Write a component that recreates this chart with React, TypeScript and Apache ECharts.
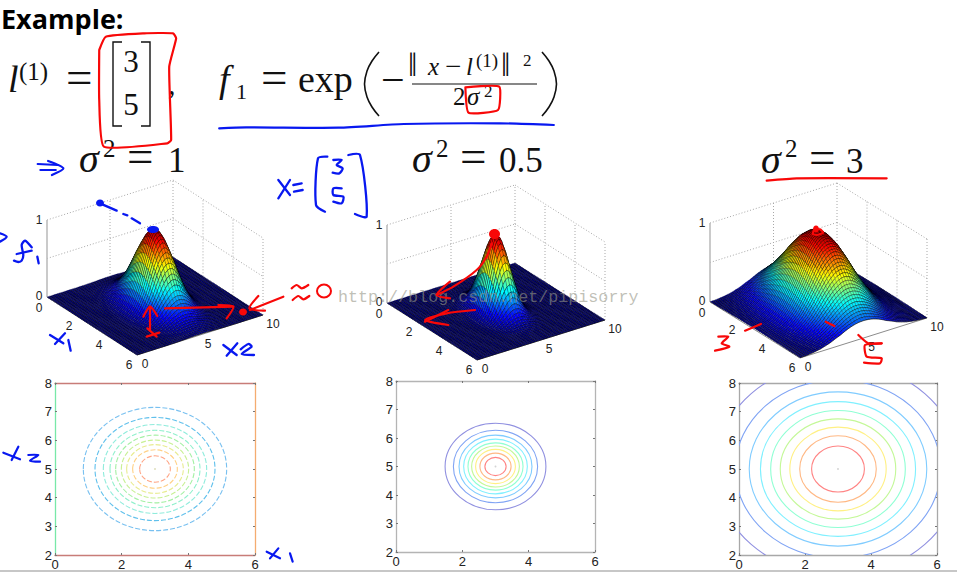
import React, { useEffect, useRef } from "react";
import * as echarts from "echarts";

// ---- values ----
const x1Ticks = [0, 2, 4, 6];
const x2Ticks = [0, 5, 10];
const zTicks = [0, 0.5, 1];
const contourXTicks = { min: 0, max: 6, interval: 2 };
const contourYTicks = { min: 2, max: 8, interval: 1 };
const center = [3, 5];

// Height of each bump against distance from its centre, estimated from the
// picture. The surface mesh looks values up in these tables.
const profileStep1 = 0.25;
const profile1 = [1, 0.97, 0.88, 0.75, 0.61, 0.46, 0.32, 0.22, 0.135, 0.08, 0.044, 0.022, 0.011, 0.005, 0.002, 0.001, 0];
const profileStep2 = 0.25;
const profile2 = [1, 0.94, 0.78, 0.57, 0.37, 0.21, 0.105, 0.047, 0.018, 0.006, 0.002, 0];
const profileStep3 = 0.5;
const profile3 = [1, 0.96, 0.85, 0.69, 0.51, 0.35, 0.22, 0.13, 0.07, 0.034, 0.015, 0.006, 0.0025, 0.001, 0];

// Contour radii in data units, outermost first, measured from the bottom row.
const contourRadii1 = [2.15, 1.8, 1.55, 1.35, 1.18, 1.01, 0.85, 0.67, 0.46, 0.015];
const contourRadii2 = [1.52, 1.27, 1.1, 0.96, 0.83, 0.72, 0.6, 0.47, 0.32, 0.012];
const contourRadii3 = [3.72, 3.11, 2.69, 2.35, 2.04, 1.75, 1.46, 1.16, 0.8, 0.012];
const contourColors1 = ["#78c0f0", "#60c0ec", "#90ecdc", "#90f0cc", "#a4f0a4", "#c8f094", "#e8ec90", "#ffd084", "#ffa484", "#e0e0c0"];
const contourColors = ["#9090e0", "#80a4f4", "#80ccff", "#80f0ff", "#90ffd4", "#c4f898", "#fff084", "#ffb884", "#ff8484", "#d0d0d0"];

const zLabels = ["0", "", "1"];
const watermark = "http://blog.csdn.net/pipisorry";

type Panel3D = { L: number[]; F: number[]; R: number[]; unit: number; profile: number[]; step: number };
const panels3D: Panel3D[] = [
  { L: [47, 297], F: [137, 355], R: [263, 315], unit: 77, profile: profile1, step: profileStep1 },
  { L: [387, 303], F: [477, 360], R: [605, 320], unit: 78, profile: profile2, step: profileStep2 },
  { L: [710, 302], F: [800, 358], R: [927, 318], unit: 79, profile: profile3, step: profileStep3 },
];

const MESH_X1 = 60;
const MESH_X2 = 50;

function project(p: Panel3D, x1: number, x2: number, z: number) {
  return [
    p.L[0] + (x1 / 6) * (p.F[0] - p.L[0]) + (x2 / 10) * (p.R[0] - p.F[0]),
    p.L[1] + (x1 / 6) * (p.F[1] - p.L[1]) + (x2 / 10) * (p.R[1] - p.F[1]) - z * p.unit,
  ];
}
function heightAt(p: Panel3D, x1: number, x2: number) {
  const r = Math.hypot(x1 - center[0], x2 - center[1]) / p.step;
  const k = Math.floor(r);
  if (k >= p.profile.length - 1) return p.profile[p.profile.length - 1];
  return p.profile[k] + (p.profile[k + 1] - p.profile[k]) * (r - k);
}
function jet(t: number) {
  const ch = (v: number) => Math.round(255 * Math.max(0, Math.min(1, v)));
  const s = t * 0.98;
  const r = 1.5 - Math.abs(4 * s - 3);
  const g = 1.5 - Math.abs(4 * s - 2);
  const b = 1.5 - Math.abs(4 * s - 1);
  return `rgb(${ch(r)},${ch(g)},${ch(b)})`;
}

function surfaceSeries(p: Panel3D) {
  const cells: number[][] = [];
  for (let i = 0; i < MESH_X1; i++) for (let j = MESH_X2 - 1; j >= 0; j--) cells.push([i, j]);
  return {
    type: "custom",
    coordinateSystem: "none",
    silent: true,
    z: 3,
    progressive: 0,
    data: cells,
    renderItem: (_: any, api: any) => {
      const i = api.value(0);
      const j = api.value(1);
      const corners = [
        [i, j],
        [i + 1, j],
        [i + 1, j + 1],
        [i, j + 1],
      ].map(([a, b]) => {
        const x1 = (a * 6) / MESH_X1;
        const x2 = (b * 10) / MESH_X2;
        const h = heightAt(p, x1, x2);
        return { h, pt: project(p, x1, x2, h) };
      });
      const mean = corners.reduce((s, c) => s + c.h, 0) / 4;
      const front = [corners[1].pt, corners[2].pt];
      return {
        type: "group",
        children: [
          {
            type: "polygon",
            shape: { points: corners.map((c) => c.pt) },
            style: { fill: jet(mean), stroke: "rgba(0,0,0,0.42)", lineWidth: 0.5 },
          },
          {
            type: "line",
            shape: { x1: front[0][0], y1: front[0][1], x2: front[1][0], y2: front[1][1] },
            style: { stroke: "rgba(0,0,0,0.72)", lineWidth: 0.75 },
          },
        ],
      };
    },
  };
}

function frameSeries(p: Panel3D) {
  type Seg = { a: number[]; b: number[]; kind: "dot" | "axis" | "zaxis" };
  const segs: Seg[] = [];
  zTicks.slice(1).forEach((z) => {
    segs.push({ a: [0, 0, z], b: [0, 10, z], kind: "dot" });
    segs.push({ a: [0, 10, z], b: [6, 10, z], kind: "dot" });
  });
  x2Ticks.slice(1).forEach((x2) => segs.push({ a: [0, x2, 0], b: [0, x2, 1], kind: "dot" }));
  x1Ticks.slice(1).forEach((x1) => segs.push({ a: [x1, 10, 0], b: [x1, 10, 1], kind: "dot" }));
  segs.push({ a: [0, 0, 0], b: [6, 0, 0], kind: "axis" });
  segs.push({ a: [6, 0, 0], b: [6, 10, 0], kind: "axis" });
  segs.push({ a: [0, 0, 0], b: [0, 0, 1], kind: "zaxis" });
  return {
    type: "custom",
    coordinateSystem: "none",
    silent: true,
    z: 2,
    data: segs.map((_, i) => i),
    renderItem: (params: any) => {
      const s = segs[params.dataIndex];
      const A = project(p, s.a[0], s.a[1], s.a[2]);
      const B = project(p, s.b[0], s.b[1], s.b[2]);
      const style =
        s.kind === "dot"
          ? { stroke: "#a8a8a8", lineWidth: 1, lineDash: [1, 2] }
          : s.kind === "axis"
            ? { stroke: "#8c8c8c", lineWidth: 1 }
            : { stroke: "#bdbdbd", lineWidth: 1.6 };
      return { type: "line", shape: { x1: A[0], y1: A[1], x2: B[0], y2: B[1] }, style };
    },
  };
}

function labelSeries(p: Panel3D) {
  const rows: { t: string; at: number[]; d: number[] }[] = [];
  zTicks.forEach((z, i) => {
    if (zLabels[i]) rows.push({ t: zLabels[i], at: [0, 0, z], d: [-8, z === 0 ? -1.5 : 0] });
  });
  x1Ticks.forEach((v) => rows.push({ t: String(v), at: [v, 0, 0], d: [-8, v === 0 ? 11 : 9.5] }));
  x2Ticks.forEach((v) => rows.push({ t: String(v), at: [6, v, 0], d: [v === 10 ? 10 : 8, 8.5] }));
  return {
    type: "custom",
    coordinateSystem: "none",
    silent: true,
    z: 4,
    data: rows.map((_, i) => i),
    renderItem: (params: any) => {
      const r = rows[params.dataIndex];
      const q = project(p, r.at[0], r.at[1], r.at[2]);
      return {
        type: "text",
        x: q[0] + r.d[0],
        y: q[1] + r.d[1],
        style: {
          text: r.t,
          fill: "#222",
          fontSize: 12,
          fontFamily: "Liberation Sans",
          align: "center",
          textAlign: "center",
          verticalAlign: "middle",
          textVerticalAlign: "middle",
        },
      };
    },
  };
}

// ---- pen annotations and typeset formula ----
const BLUE = "#0818f0";
const RED = "#f80808";
type Crop = { ox: number; oy: number; sx: number; sy: number };
const topCrop: Crop = { ox: 0, oy: 0, sx: 2.6, sy: 3 };
const leftCrop: Crop = { ox: 0, oy: 190, sx: 3, sy: 3 };
const midCrop: Crop = { ox: 320, oy: 140, sx: 3, sy: 3 };
const rightCrop: Crop = { ox: 660, oy: 140, sx: 3, sy: 3 };
const lowCrop: Crop = { ox: 0, oy: 370, sx: 3, sy: 3 };

function pen(c: Crop, color: string, width: number, lines: number[][][], smooth = 0.25) {
  return lines.map((pts) => ({
    type: "polyline",
    z: 50,
    silent: true,
    shape: { points: pts.map(([x, y]) => [c.ox + x / c.sx, c.oy + y / c.sy]), smooth },
    style: { stroke: color, lineWidth: width, fill: "none", lineCap: "round", lineJoin: "round" },
  }));
}
function txt(text: string, x: number, base: number, size: number, italic = false, align = "left", family = "Liberation Serif", fill = "#111", weight = "normal") {
  return {
    type: "text",
    z: 40,
    silent: true,
    x,
    y: base - 0.33 * size,
    style: {
      text,
      fill,
      fontSize: size,
      fontFamily: family,
      fontStyle: italic ? "italic" : "normal",
      fontWeight: weight,
      align,
      textAlign: align,
      verticalAlign: "middle",
      textVerticalAlign: "middle",
    },
  };
}
function blob(cx: number, cy: number, rx: number, ry: number, color: string) {
  return { type: "ellipse", z: 50, silent: true, shape: { cx, cy, rx, ry }, style: { fill: color } };
}
function ink(x1: number, y1: number, x2: number, y2: number, w = 1.2) {
  return { type: "line", z: 40, silent: true, shape: { x1, y1, x2, y2 }, style: { stroke: "#111", lineWidth: w } };
}
function poly(points: number[][], w = 1.4, smooth = 0) {
  return { type: "polyline", z: 40, silent: true, shape: { points, smooth }, style: { stroke: "#111", lineWidth: w, fill: "none" } };
}

const formula = [
  txt("Example:", 1, 27, 27, false, "left", "Open Sans", "#000", "bold"),
  txt("l", 8, 92, 38, true),
  txt("(1)", 19, 80, 25),
  txt("=", 66, 93, 47),
  poly([[122, 42], [113, 42], [113, 126], [122, 126]]),
  poly([[141, 42], [150, 42], [150, 126], [141, 126]]),
  txt("3", 131, 72, 31, false, "center"),
  txt("5", 131, 115, 31, false, "center"),
  txt(",", 168, 93, 30),
  txt("f", 219, 92, 38, true),
  txt("1", 236, 99, 22),
  txt("=", 261, 93, 47),
  txt("exp", 298, 92, 38),
  poly([[379, 52], [372, 61], [367, 71], [364.5, 84], [367, 97], [372, 107], [379, 116]], 1.6, 0.4),
  poly([[542, 52], [549, 61], [554, 71], [556.5, 84], [554, 97], [549, 107], [542, 116]], 1.6, 0.4),
  txt("−", 381, 94, 42),
  ink(412, 84, 537, 84),
  txt("‖", 408, 76, 33),
  txt("x", 428, 75, 25, true),
  txt("−", 445, 76, 29),
  txt("l", 466, 75, 25, true),
  txt("(1)", 476, 67, 19),
  txt("‖", 501, 76, 33),
  txt("2", 523, 66, 17),
  txt("2", 453, 105, 25),
  txt("σ", 467, 105, 25, true),
  txt("2", 484, 97, 17),
  // panel titles
  txt("σ", 79, 172, 40, true),
  txt("2", 103, 157, 25),
  txt("=", 127, 172, 47),
  txt("1", 168, 172, 35),
  txt("σ", 412, 172, 40, true),
  txt("2", 436, 157, 25),
  txt("=", 460, 172, 47),
  txt("0.5", 499, 172, 35),
  txt("σ", 761, 173, 40, true),
  txt("2", 785, 157, 25),
  txt("=", 809, 173, 47),
  txt("3", 846, 173, 35),
];

const annotations = [
  // top row
  ...pen(topCrop, RED, 2.2, [
    [[258, 150], [275, 110], [375, 100], [450, 100], [458, 115], [440, 200], [445, 420], [435, 430], [270, 440], [258, 300], [258, 150]],
    [[1210, 262], [1298, 260], [1295, 330], [1218, 338], [1210, 262]],
  ], 0.15),
  ...pen(topCrop, BLUE, 2.2, [
    [[570, 385], [640, 382], [880, 383], [1050, 372], [1300, 370], [1440, 375]],
    [[98, 492], [150, 495]],
    [[125, 483], [165, 505], [135, 525]],
    [[105, 510], [145, 510]],
  ]),
  // x = [3 5]
  ...pen(midCrop, BLUE, 2.3, [
    [[-125, 120], [-90, 165]],
    [[-90, 120], [-125, 175]],
    [[-80, 135], [-55, 130]],
    [[-78, 155], [-52, 150]],
    [[22, 50], [-6, 55], [-12, 195], [15, 215]],
    [[85, 45], [120, 45], [140, 230], [105, 222]],
    [[40, 60], [65, 60], [50, 75], [68, 85], [58, 100], [38, 98]],
    [[65, 145], [40, 145], [40, 165], [70, 170], [65, 190], [40, 185]],
  ]),
  // surface 1
  ...pen(leftCrop, BLUE, 2.3, [
    [[300, 40], [350, 62]],
    [[370, 72], [382, 76]],
    [[395, 85], [420, 100]],
    [[0, 130], [20, 140], [0, 155]],
    [[95, 172], [75, 152], [65, 165], [70, 195], [65, 212], [55, 216], [42, 212]],
    [[50, 192], [95, 182]],
    [[112, 200], [116, 220]],
    [[150, 435], [190, 460]],
    [[195, 430], [165, 462]],
    [[205, 450], [212, 482]],
    [[670, 465], [710, 495]],
    [[712, 460], [680, 497]],
    [[722, 478], [745, 462], [755, 470], [725, 492], [762, 495]],
  ]),
  blob(100, 203, 4, 3.5, BLUE),
  blob(153, 229.5, 6, 3.5, BLUE),
  ...pen(leftCrop, RED, 2.2, [
    [[450, 350], [450, 420]],
    [[430, 380], [450, 350], [472, 378]],
    [[440, 440], [478, 428]],
    [[442, 415], [470, 440]],
    [[495, 355], [700, 350]],
    [[655, 345], [700, 350], [680, 385]],
    [[850, 320], [750, 360]],
    [[775, 318], [748, 355], [795, 362]],
    [[875, 295], [890, 285], [905, 295], [925, 285]],
    [[878, 330], [895, 318], [910, 328], [928, 318]],
  ]),
  blob(243, 312, 4, 3.5, RED),
  { type: "ellipse", z: 50, silent: true, shape: { cx: 324, cy: 291, rx: 7, ry: 6.5 }, style: { fill: "none", stroke: RED, lineWidth: 2 } },
  // surface 2
  blob(494.5, 234, 5.5, 5, RED),
  ...pen(midCrop, RED, 2.2, [
    [[515, 310], [500, 350], [470, 390], [400, 440], [350, 465]],
    [[390, 425], [350, 465], [390, 475]],
    [[465, 510], [380, 520], [315, 540], [385, 555]],
    [[385, 510], [315, 545]],
  ]),
  // surface 3
  ...pen(rightCrop, RED, 2.2, [
    [[320, 122], [410, 115], [680, 115]],
    [[175, 590], [205, 590], [185, 610], [208, 620], [165, 632]],
    [[255, 572], [303, 552]],
    [[497, 545], [523, 558]],
    [[595, 585], [625, 610], [665, 610]],
    [[665, 610], [615, 615], [620, 650], [665, 655], [660, 670], [612, 668]],
    [[458, 282], [470, 285], [490, 278], [480, 268], [462, 270], [458, 282]],
  ], 0.2),
  blob(816, 229, 3, 3.5, RED),
  // lower row
  ...pen(lowCrop, BLUE, 2.2, [
    [[10, 248], [60, 268]],
    [[55, 230], [35, 270]],
    [[85, 255], [115, 255], [90, 272], [120, 275]],
    [[800, 545], [840, 565]],
    [[835, 535], [810, 565]],
    [[870, 550], [878, 575]],
  ]),
];

const page = [
  txt(watermark, 338, 303, 16.7, false, "left", "Liberation Mono", "rgba(150,150,135,0.6)"),
  { type: "line", z: 60, silent: true, shape: { x1: 0, y1: 571, x2: 957, y2: 571 }, style: { stroke: "#b4b4b4", lineWidth: 1.5 } },
];

// ---- contour panels ----
type Box = { left: number; top: number; width: number; height: number };
const contourPanels = [
  { box: { left: 55, top: 383, width: 200, height: 172 } as Box, radii: contourRadii1, colors: contourColors1, dash: [5, 2], top: "#c87c78", bottom: "#c87c78", leftC: "#78e8a8", right: "#f4ac70" },
  { box: { left: 396, top: 381, width: 199, height: 171 } as Box, radii: contourRadii2, colors: contourColors, dash: null, top: "#b4b4b4", bottom: "#b4b4b4", leftC: "#b4b4b4", right: "#b4b4b4" },
  { box: { left: 739, top: 383, width: 198, height: 172 } as Box, radii: contourRadii3, colors: contourColors, dash: null, top: "#a8a8a8", bottom: "#a8a8a8", leftC: "#a8a8a8", right: "#a8a8a8" },
];

function buildOption() {
  const grid: any[] = [];
  const xAxis: any[] = [];
  const yAxis: any[] = [];
  const series: any[] = [];
  contourPanels.forEach((c, g) => {
    grid.push({ ...c.box, show: false });
    const mk = (pos: string, color: string, labels: boolean) => ({
      type: "value",
      gridIndex: g,
      position: pos,
      splitLine: { show: false },
      axisLine: { show: true, onZero: false, lineStyle: { color, width: 1.3 } },
      axisTick: { show: true, inside: true, length: 2, lineStyle: { color: "#777" } },
      axisLabel: {
        show: labels,
        margin: 3,
        fontSize: 13,
        color: "#222",
        fontFamily: "Liberation Sans",
        hideOverlap: false,
        showMinLabel: true,
        showMaxLabel: true,
      },
    });
    xAxis.push({ ...mk("bottom", c.bottom, true), ...contourXTicks });
    xAxis.push({ ...mk("top", c.top, false), ...contourXTicks });
    yAxis.push({ ...mk("left", c.leftC, true), ...contourYTicks });
    yAxis.push({ ...mk("right", c.right, false), ...contourYTicks });
    series.push({
      type: "custom",
      coordinateSystem: "cartesian2d",
      xAxisIndex: g * 2,
      yAxisIndex: g * 2,
      clip: true,
      silent: true,
      data: c.radii.map((r, i) => [r, i]),
      renderItem: (_: any, api: any) => {
        const rad = api.value(0);
        const at = api.coord(center);
        const s = api.size([rad, rad]);
        return {
          type: "ellipse",
          shape: { cx: at[0], cy: at[1], rx: s[0], ry: s[1] },
          style: { fill: "none", stroke: c.colors[api.value(1)], lineWidth: 1.1, lineDash: c.dash || undefined },
        };
      },
    });
  });
  panels3D.forEach((p) => {
    series.push(frameSeries(p), surfaceSeries(p), labelSeries(p));
  });
  return {
    animation: false,
    backgroundColor: "#ffffff",
    grid,
    xAxis,
    yAxis,
    series,
    graphic: { elements: [...formula, ...annotations, ...page] },
  };
}

export default function App() {
  const ref = useRef<HTMLDivElement>(null);
  useEffect(() => {
    if (!ref.current) return;
    const chart = echarts.init(ref.current, undefined, { renderer: "svg" });
    chart.setOption(buildOption() as any);
    return () => chart.dispose();
  }, []);
  return <div ref={ref} style={{ position: "fixed", left: 0, top: 0, width: 957, height: 572 }} />;
}
